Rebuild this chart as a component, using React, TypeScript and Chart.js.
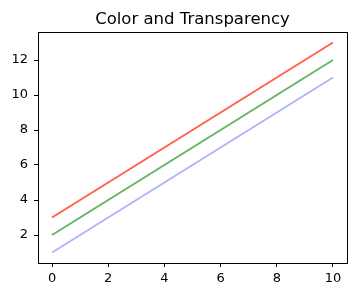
import React, { useEffect, useRef } from "react";
import { Chart, registerables } from "chart.js";

Chart.register(...registerables);

const xValues = [0, 1, 2, 3, 4, 5, 6, 7, 8, 9, 10];
const redSeries = [3, 4, 5, 6, 7, 8, 9, 10, 11, 12, 13];
const greenSeries = [2, 3, 4, 5, 6, 7, 8, 9, 10, 11, 12];
const blueSeries = [1, 2, 3, 4, 5, 6, 7, 8, 9, 10, 11];
const xTicks = [0, 2, 4, 6, 8, 10];
const yTicks = [2, 4, 6, 8, 10, 12];
const titleText = "Color and Transparency";

const FONT = "'DejaVu Sans', sans-serif";

const boxPlugin = {
  id: "box",
  afterDraw(chart: any) {
    const { ctx, chartArea } = chart;
    ctx.save();
    ctx.strokeStyle = "#000";
    ctx.lineWidth = 1;
    const l = Math.round(chartArea.left) + 0.5;
    const t = Math.round(chartArea.top) + 0.5;
    const r = Math.round(chartArea.right) + 0.5;
    const b = Math.round(chartArea.bottom) + 0.5;
    ctx.strokeRect(l, t, r - l, b - t);
    ctx.fillStyle = "#000";
    ctx.font = `16.5px ${FONT}`;
    ctx.textAlign = "center";
    ctx.textBaseline = "alphabetic";
    ctx.fillText(titleText, (chartArea.left + chartArea.right) / 2, 24);
    ctx.restore();
  },
};

export default function App() {
  const ref = useRef<HTMLCanvasElement | null>(null);
  useEffect(() => {
    document.body.style.margin = "0";
    const pts = (ys: number[]) => xValues.map((x, i) => ({ x, y: ys[i] }));
    const chart = new Chart(ref.current!, {
      type: "line",
      data: {
        datasets: [
          { data: pts(redSeries), borderColor: "#ff6347", borderWidth: 2, pointRadius: 0, fill: false },
          { data: pts(greenSeries), borderColor: "rgba(0,128,0,0.6)", borderWidth: 2, pointRadius: 0, fill: false },
          { data: pts(blueSeries), borderColor: "rgba(0,0,255,0.3)", borderWidth: 2, pointRadius: 0, fill: false },
        ],
      },
      options: {
        responsive: false,
        animation: false,
        layout: { padding: { left: 0, right: 10, top: 32, bottom: 0 } },
        plugins: {
          legend: { display: false },
          tooltip: { enabled: false },
          title: { display: false },
        },
        scales: {
          x: {
            type: "linear",
            min: -0.5,
            max: 10.5,
            afterBuildTicks: (s: any) => { s.ticks = xTicks.map((v) => ({ value: v })); },
            afterFit: (s: any) => { s.height = 34; },
            grid: { drawOnChartArea: false, drawTicks: true, tickLength: 4, tickColor: "#000" },
            border: { display: false },
            ticks: { color: "#000", font: { family: FONT, size: 13 }, padding: 4, maxRotation: 0, autoSkip: false },
          },
          y: {
            type: "linear",
            min: 0.4,
            max: 13.6,
            afterBuildTicks: (s: any) => { s.ticks = yTicks.map((v) => ({ value: v })); },
            afterFit: (s: any) => { s.width = 38; },
            grid: { drawOnChartArea: false, drawTicks: true, tickLength: 4, tickColor: "#000" },
            border: { display: false },
            ticks: { color: "#000", font: { family: FONT, size: 13 }, padding: 6, autoSkip: false },
          },
        },
      },
      plugins: [boxPlugin],
    });
    return () => chart.destroy();
  }, []);
  return (
    <div style={{ position: "absolute", left: 0, top: 0, width: 357, height: 297, background: "#fff" }}>
      <canvas ref={ref} width={357} height={297} style={{ display: "block" }} />
    </div>
  );
}
